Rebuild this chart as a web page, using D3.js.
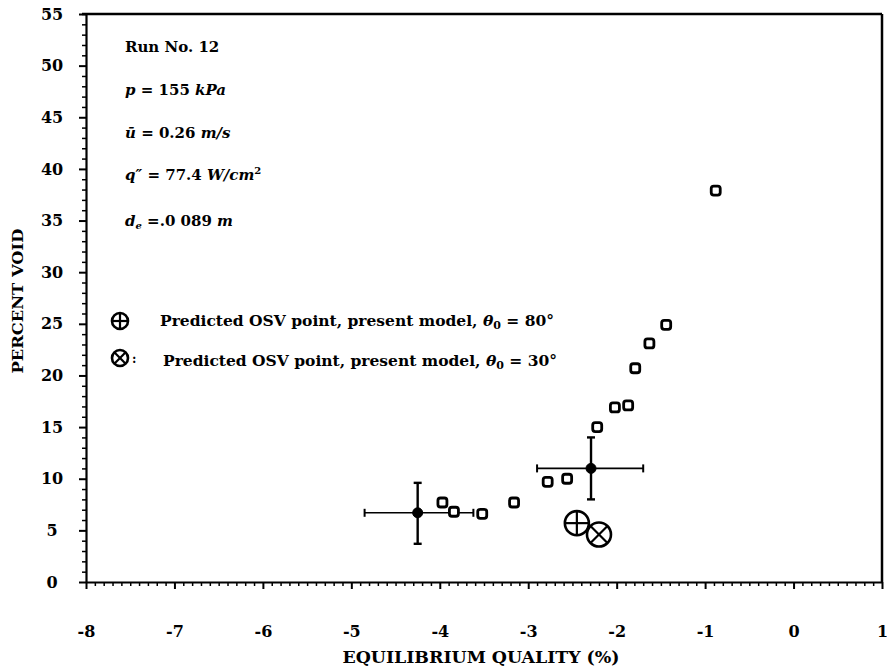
<!DOCTYPE html>
<html>
<head>
<meta charset="utf-8">
<script src="https://cdn.jsdelivr.net/npm/d3@7/dist/d3.min.js"></script>
<style>
  body { margin: 0; background: #fff; }
  text { font-family: "DejaVu Serif", serif; font-weight: bold; fill: #000; }
</style>
</head>
<body>
<svg id="chart" width="887" height="670"></svg>
<script>
// measured void fraction (open squares)
var qualityX = [-3.97, -3.84, -3.52, -3.16, -2.78, -2.56, -2.22, -2.02, -1.87, -1.79, -1.63, -1.44, -0.88];
var voidY = [7.7, 6.8, 6.6, 7.7, 9.7, 10.0, 15.0, 16.9, 17.1, 20.7, 23.1, 24.9, 37.9];

// points with error bars
var errX = [-4.25, -2.29];
var errY = [6.7, 11.0];
var errXLo = [-4.85, -2.90];
var errXHi = [-3.62, -1.70];
var errYLo = [3.7, 8.0];
var errYHi = [9.6, 14.0];

// predicted OSV points
var osv80 = [-2.45, 5.7];
var osv30 = [-2.20, 4.6];

var xTicks = [-8, -7, -6, -5, -4, -3, -2, -1, 0, 1];
var yTicks = [0, 5, 10, 15, 20, 25, 30, 35, 40, 45, 50, 55];

var svg = d3.select("#chart"),
  margin = { top: 14, right: 5, bottom: 88, left: 86 },
  width = +svg.attr("width") - margin.left - margin.right,
  height = +svg.attr("height") - margin.top - margin.bottom;

var x = d3.scaleLinear().domain([-8, 1]).range([0, width]);
var y = d3.scaleLinear().domain([0, 55]).range([height, 0]);

var g = svg.append("g")
  .attr("transform", "translate(" + margin.left + "," + margin.top + ")");

// minor ticks first
var xMinor = d3.range(-80, 11).map(function (d) { return d / 10; })
  .filter(function (d) { return Math.abs(d - Math.round(d)) > 1e-6; });
var yMinor = d3.range(0, 56).filter(function (d) { return d % 5 !== 0; });

g.append("g")
  .attr("transform", "translate(0," + height + ")")
  .call(d3.axisBottom(x).tickValues(xMinor).tickSize(4).tickFormat(""))
  .call(function (s) { s.select(".domain").remove(); s.selectAll("line").attr("stroke-width", 1.5); });

g.append("g")
  .call(d3.axisLeft(y).tickValues(yMinor).tickSize(4).tickFormat(""))
  .call(function (s) { s.select(".domain").remove(); s.selectAll("line").attr("stroke-width", 1.5); });

// major axes
var xAxis = g.append("g")
  .attr("transform", "translate(0," + height + ")")
  .call(d3.axisBottom(x).tickValues(xTicks).tickSize(7).tickSizeOuter(0)
    .tickFormat(function (d) { return String(d); }));
xAxis.select(".domain").attr("stroke-width", 2.2);
xAxis.selectAll("line").attr("stroke-width", 2);
xAxis.selectAll("text").attr("y", 44).attr("font-size", 16)
  .attr("font-family", "DejaVu Serif").attr("font-weight", "bold");

var yAxis = g.append("g")
  .call(d3.axisLeft(y).tickValues(yTicks).tickSize(7).tickSizeOuter(0)
    .tickFormat(function (d) { return String(d); }));
yAxis.select(".domain").attr("stroke-width", 2.2);
yAxis.selectAll("line").attr("stroke-width", 2);
yAxis.selectAll("text").attr("x", -34).attr("text-anchor", "middle").attr("font-size", 16)
  .attr("font-family", "DejaVu Serif").attr("font-weight", "bold");

// top and right frame
g.append("line").attr("x1", -4).attr("x2", width).attr("y1", 0).attr("y2", 0)
  .attr("stroke", "#000").attr("stroke-width", 2.4);
g.append("line").attr("x1", width).attr("x2", width).attr("y1", 0).attr("y2", height)
  .attr("stroke", "#000").attr("stroke-width", 2.5);

// axis titles
svg.append("text")
  .attr("transform", "translate(23," + (margin.top + y(27.2)) + ") rotate(-90)")
  .attr("text-anchor", "middle").attr("font-size", 15)
  .attr("textLength", 145).attr("lengthAdjust", "spacingAndGlyphs")
  .text("PERCENT VOID");

svg.append("text")
  .attr("x", 481).attr("y", 663)
  .attr("text-anchor", "middle").attr("font-size", 16)
  .attr("textLength", 277).attr("lengthAdjust", "spacingAndGlyphs")
  .text("EQUILIBRIUM QUALITY (%)");

// run conditions
var notes = svg.append("g").attr("font-size", 15);
notes.append("text").attr("x", 125).attr("y", 52).text("Run No. 12");

var t1 = notes.append("text").attr("x", 125).attr("y", 95);
t1.append("tspan").attr("font-style", "italic").text("p");
t1.append("tspan").text(" = 155 ");
t1.append("tspan").attr("font-style", "italic").text("kPa");

var t2 = notes.append("text").attr("x", 125).attr("y", 138);
t2.append("tspan").attr("font-style", "italic").text("ū");
t2.append("tspan").text(" = 0.26 ");
t2.append("tspan").attr("font-style", "italic").text("m/s");

var t3 = notes.append("text").attr("x", 125).attr("y", 180);
t3.append("tspan").attr("font-style", "italic").text("q″");
t3.append("tspan").text(" = 77.4 ");
t3.append("tspan").attr("font-style", "italic").text("W/cm");
t3.append("tspan").attr("font-size", 10).attr("dy", -6).text("2");

var t4 = notes.append("text").attr("x", 125).attr("y", 226);
t4.append("tspan").attr("font-style", "italic").text("d");
t4.append("tspan").attr("font-style", "italic").attr("font-size", 10).attr("dy", 3).text("e");
t4.append("tspan").attr("dy", -3).text(" =.0 089 ");
t4.append("tspan").attr("font-style", "italic").text("m");

// symbol helpers
function plusCircle(sel, cx, cy, r) {
  sel.append("circle").attr("cx", cx).attr("cy", cy).attr("r", r)
    .attr("fill", "#fff").attr("stroke", "#000").attr("stroke-width", 2.6);
  sel.append("line").attr("x1", cx - r).attr("x2", cx + r).attr("y1", cy).attr("y2", cy)
    .attr("stroke", "#000").attr("stroke-width", 2.2);
  sel.append("line").attr("x1", cx).attr("x2", cx).attr("y1", cy - r).attr("y2", cy + r)
    .attr("stroke", "#000").attr("stroke-width", 2.2);
}

function crossCircle(sel, cx, cy, r) {
  var k = r * 0.7071;
  sel.append("circle").attr("cx", cx).attr("cy", cy).attr("r", r)
    .attr("fill", "#fff").attr("stroke", "#000").attr("stroke-width", 2.6);
  sel.append("line").attr("x1", cx - k).attr("x2", cx + k).attr("y1", cy - k).attr("y2", cy + k)
    .attr("stroke", "#000").attr("stroke-width", 2.2);
  sel.append("line").attr("x1", cx - k).attr("x2", cx + k).attr("y1", cy + k).attr("y2", cy - k)
    .attr("stroke", "#000").attr("stroke-width", 2.2);
}

// legend
var leg = svg.append("g").attr("font-size", 15.5);
plusCircle(leg, 120, 321, 8);
crossCircle(leg, 120, 358, 8);
leg.append("text").attr("x", 132).attr("y", 363).attr("font-size", 12).text(":");

var l1 = leg.append("text").attr("x", 160).attr("y", 326);
l1.append("tspan").text("Predicted OSV point, present model, ");
l1.append("tspan").attr("font-style", "italic").text("θ");
l1.append("tspan").attr("font-size", 11).attr("dy", 3).text("0");
l1.append("tspan").attr("dy", -3).text(" = 80°");

var l2 = leg.append("text").attr("x", 163).attr("y", 366);
l2.append("tspan").text("Predicted OSV point, present model, ");
l2.append("tspan").attr("font-style", "italic").text("θ");
l2.append("tspan").attr("font-size", 11).attr("dy", 3).text("0");
l2.append("tspan").attr("dy", -3).text(" = 30°");

// error bars
var eb = g.append("g").attr("stroke", "#000");
errX.forEach(function (d, i) {
  eb.append("line").attr("x1", x(errXLo[i])).attr("x2", x(errXHi[i]))
    .attr("y1", y(errY[i])).attr("y2", y(errY[i])).attr("stroke-width", 1.6);
  eb.append("line").attr("x1", x(d)).attr("x2", x(d))
    .attr("y1", y(errYLo[i])).attr("y2", y(errYHi[i])).attr("stroke-width", 2.4);
  [errXLo[i], errXHi[i]].forEach(function (v) {
    eb.append("line").attr("x1", x(v)).attr("x2", x(v))
      .attr("y1", y(errY[i]) - 4).attr("y2", y(errY[i]) + 4).attr("stroke-width", 2);
  });
  [errYLo[i], errYHi[i]].forEach(function (v) {
    eb.append("line").attr("x1", x(d) - 4).attr("x2", x(d) + 4)
      .attr("y1", y(v)).attr("y2", y(v)).attr("stroke-width", 2.4);
  });
  eb.append("circle").attr("cx", x(d)).attr("cy", y(errY[i])).attr("r", 5)
    .attr("fill", "#000");
});

// open squares
g.append("g").selectAll("rect")
  .data(qualityX)
  .enter().append("rect")
  .attr("x", function (d) { return x(d) - 4.5; })
  .attr("y", function (d, i) { return y(voidY[i]) - 4.5; })
  .attr("width", 9).attr("height", 9).attr("rx", 2.5)
  .attr("fill", "#fff").attr("stroke", "#000").attr("stroke-width", 2.8);

// predicted points in the plot
plusCircle(g, x(osv80[0]), y(osv80[1]), 12);
crossCircle(g, x(osv30[0]), y(osv30[1]), 12);
</script>
</body>
</html>
